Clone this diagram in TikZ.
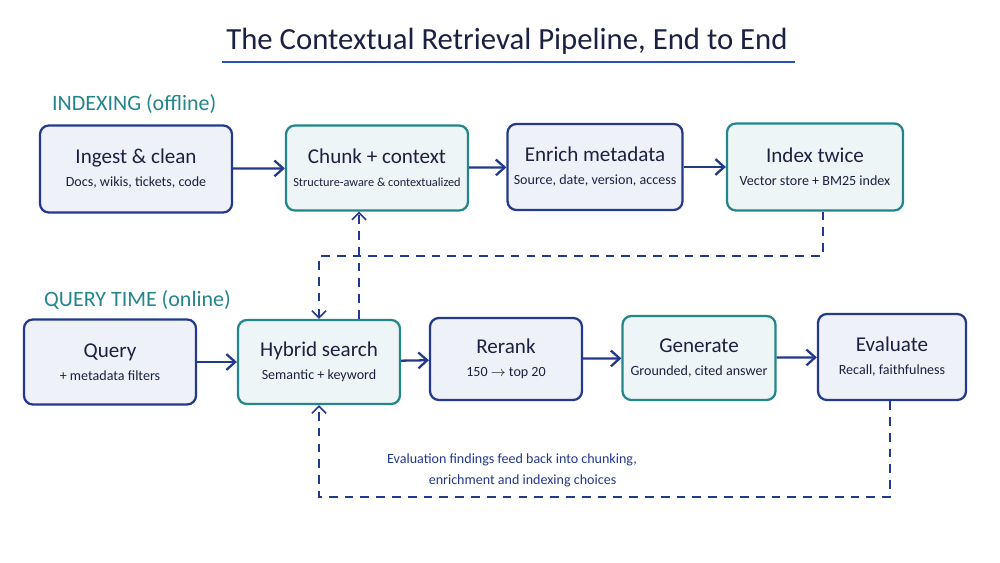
\documentclass[tikz,border=0pt]{standalone}
\usepackage{fontspec}
\setmainfont{Carlito}
\usetikzlibrary{arrows.meta}
\definecolor{navy}{HTML}{233A8C}
\definecolor{teal}{HTML}{23868A}
\definecolor{ink}{HTML}{1B2140}
\definecolor{bluefill}{HTML}{EEF1F8}
\definecolor{tealfill}{HTML}{EDF5F6}
\definecolor{rule}{HTML}{2A4FBF}
\tikzset{
  stage/.style = {draw=navy, fill=bluefill, line width=1.3pt, rounded corners=5pt, align=center, text=ink, inner sep=2pt},
  tstage/.style = {stage, draw=teal, fill=tealfill},
  flow/.style = {draw=navy, line width=1.3pt, -{Straight Barb[length=5pt,width=9pt]}},
  back/.style = {draw=navy, line width=0.9pt, dashed, dash pattern=on 5pt off 4pt},
  backtip/.style = {back, -{Straight Barb[length=4pt,width=8pt]}}
}
\newcommand{\stagetext}[3][8]{{\fontsize{12}{14}\selectfont #2}\\[1pt]{\fontsize{#1}{10}\selectfont #3}}

\begin{document}
\begin{tikzpicture}[x=0.02cm, y=-0.02cm]
\useasboundingbox[fill=white] (0,0) rectangle (1000,563);

\node[text=ink, font=\fontsize{17.5}{20}\selectfont] (title) at (507,41){The Contextual Retrieval Pipeline, End to End};
\draw[rule, line width=1.2pt] (222,62) -- (795,62);

\node[anchor=west, text=teal, font=\fontsize{12.5}{14}\selectfont] (lidx) at (46,104){INDEXING (offline)};
\node[anchor=west, text=teal, font=\fontsize{12.5}{14}\selectfont] (lqry) at (38,300){QUERY TIME (online)};

\node[stage, minimum width=3.84cm, minimum height=1.74cm] (ing) at (136,169){\stagetext{Ingest \& clean}{Docs, wikis, tickets, code}};
\node[tstage, minimum width=3.64cm, minimum height=1.70cm] (chk) at (377,168){\stagetext[7]{Chunk + context}{Structure-aware \& contextualized}};
\node[stage, minimum width=3.50cm, minimum height=1.72cm] (enr) at (595,167){\stagetext{Enrich metadata}{Source, date, version, access}};
\node[tstage, minimum width=3.52cm, minimum height=1.74cm] (idx) at (815,167){\stagetext{Index twice}{Vector store + BM25 index}};

\node[stage, minimum width=3.44cm, minimum height=1.70cm] (qry) at (110,362){\stagetext{Query}{+ metadata filters}};
\node[tstage, minimum width=3.24cm, minimum height=1.68cm] (hyb) at (319,362){\stagetext{Hybrid search}{Semantic + keyword}};
\node[stage, minimum width=3.04cm, minimum height=1.64cm] (rrk) at (506,359){\stagetext{Rerank}{150 $\rightarrow$ top 20}};
\node[tstage, minimum width=3.06cm, minimum height=1.68cm] (gen) at (699,358){\stagetext{Generate}{Grounded, cited answer}};
\node[stage, minimum width=2.96cm, minimum height=1.72cm] (eva) at (892,357){\stagetext{Evaluate}{Recall, faithfulness}};

\draw[flow] (ing) -- (chk);
\draw[flow] (chk) -- (enr);
\draw[flow] (enr) -- (idx);
\draw[flow] (qry) -- (hyb);
\draw[flow] (hyb) -- (rrk);
\draw[flow] (rrk) -- (gen);
\draw[flow] (gen) -- (eva);

\coordinate (ia) at (823,256);
\coordinate (ua) at (359,290);
\coordinate (fb) at (890,497);
\draw[backtip] (idx.south -| ia) -- (ia) -- (ia -| hyb.north) -- (hyb.north);
\draw[backtip] (hyb.north -| ua) -- (chk.south -| ua);
\draw[backtip] (eva.south -| fb) -- (fb) -- (fb -| hyb.south) -- (hyb.south);

\node[text=navy, align=center, font=\fontsize{8}{12}\selectfont] (note) at (512,470){Evaluation findings feed back into chunking,\\ \hspace*{1.5em}enrichment and indexing choices};
\end{tikzpicture}
\end{document}
